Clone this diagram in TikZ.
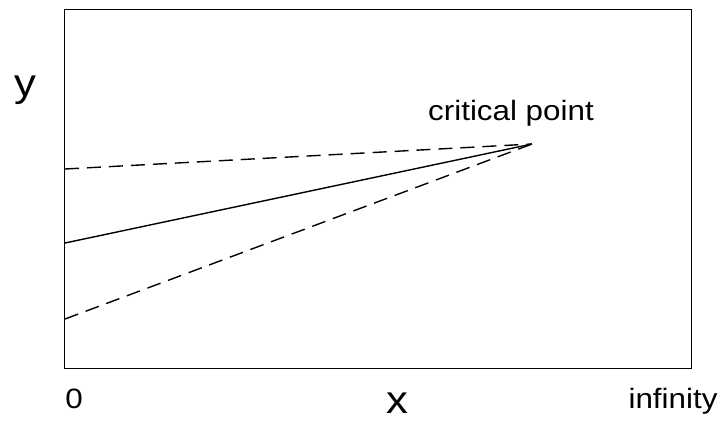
\documentclass[tikz,border=0pt]{standalone}
\usepackage{fontspec}
\setmainfont[FakeStretch=1.12]{Liberation Sans}
\begin{document}
\begin{tikzpicture}[
		x=1pt, y=-1pt,
		lbl/.style = {font=\fontsize{28}{32}\selectfont, inner sep=0pt, anchor=base},
		axl/.style = {font=\fontsize{39}{44}\selectfont, inner sep=0pt, anchor=base},
		dsh/.style = {line width=1.4pt, dash pattern=on 14pt off 8pt},
		sld/.style = {line width=1.4pt}
		]
		\useasboundingbox (0, 0) rectangle (720, 421);
		
		%Frame
		\draw[line width=1pt] (64, 9) rectangle (691, 368);
		
		%Nodes
		\node[axl]	(ylab)	at (25.5, 96)	{y};
		\node[lbl]	(crit)	at (511, 120)	{critical point};
		\node[lbl]	(zero)	at (74, 408)	{0};
		\node[axl]	(xlab)	at (397.5, 413)	{x};
		\node[lbl]	(inf)	at (673, 408)	{infinity};
		
		\coordinate (cp)	at (532, 144);
		\coordinate (top)	at (65, 169);
		\coordinate (mid)	at (65, 243);
		\coordinate (low)	at (65, 319);
		
		%Lines
		\draw[dsh] (top) -- (cp);
		\draw[sld] (mid) -- (cp);
		\draw[dsh] (low) -- (cp);
		
	\end{tikzpicture}
\end{document}
